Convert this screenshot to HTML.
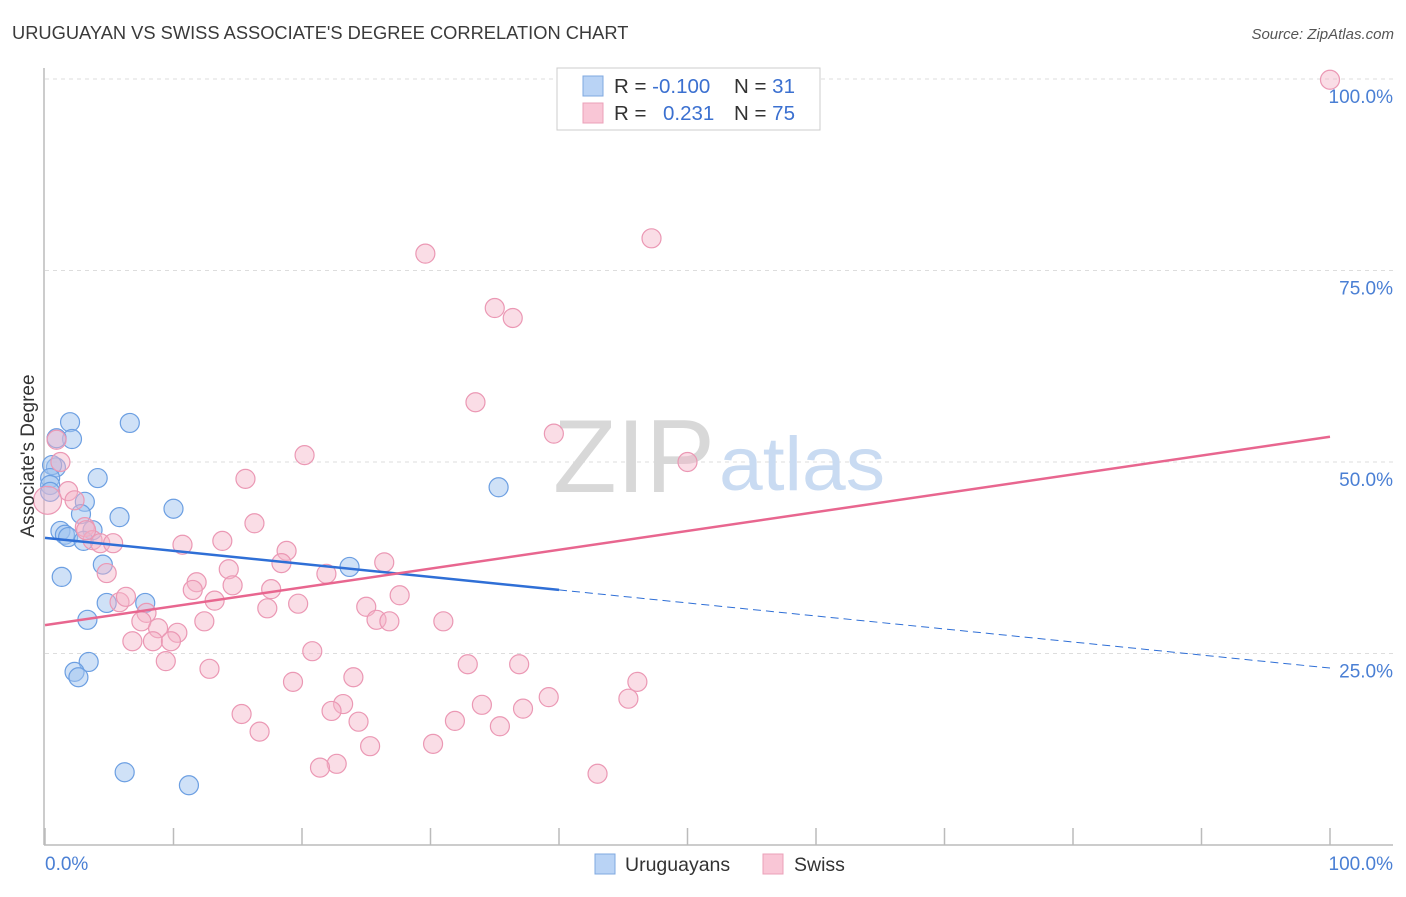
<!DOCTYPE html>
<html><head><meta charset="utf-8"><style>
body{margin:0;background:#fff;font-family:"Liberation Sans",sans-serif;}
svg text{font-family:"Liberation Sans",sans-serif;}
</style></head><body>
<svg id="chart" width="1406" height="892" viewBox="0 0 1406 892" xmlns="http://www.w3.org/2000/svg">
<text x="12" y="39" font-size="18.3" fill="#3a3a3a">URUGUAYAN VS SWISS ASSOCIATE'S DEGREE CORRELATION CHART</text>
<text x="1394" y="39" font-size="15" font-style="italic" fill="#555" text-anchor="end">Source: ZipAtlas.com</text>
<g id="grid"></g>
<g>
<text x="553" y="492" font-size="104" font-family="Liberation Serif,serif" fill="#d8d8d8" textLength="162" lengthAdjust="spacingAndGlyphs">ZIP</text>
<text x="719" y="490" font-size="76" fill="#c9dbf2" textLength="166" lengthAdjust="spacingAndGlyphs">atlas</text>
</g>
<line x1="44" y1="68" x2="44" y2="845" stroke="#bbb" stroke-width="1.5"/>
<line x1="44" y1="845" x2="1393" y2="845" stroke="#bbb" stroke-width="1.5"/>
<g id="ticks"></g>
<g id="pts"></g>
<g id="trends"></g>
<text transform="translate(34,456) rotate(-90)" font-size="19" fill="#333" text-anchor="middle">Associate's Degree</text>
<text x="45" y="870" font-size="19" fill="#4a7fd4">0.0%</text>
<text x="1393" y="870" font-size="19" fill="#4a7fd4" text-anchor="end">100.0%</text>
<g>
<rect x="557" y="68" width="263" height="62" fill="#fff" stroke="#ccc"/>
<rect x="583" y="76" width="20" height="20" fill="#b9d3f5" stroke="#7fa8e0"/>
<rect x="583" y="103" width="20" height="20" fill="#f9c6d6" stroke="#eba0b8"/>
<text x="614" y="93" font-size="20.5" fill="#333">R = <tspan fill="#3b70d0">-0.100</tspan></text>
<text x="734" y="93" font-size="20.5" fill="#333">N = <tspan fill="#3b70d0"> 31</tspan></text>
<text x="614" y="120" font-size="20.5" fill="#333">R = <tspan fill="#3b70d0" x="663">0.231</tspan></text>
<text x="734" y="120" font-size="20.5" fill="#333">N = <tspan fill="#3b70d0">75</tspan></text>
</g>
<g>
<rect x="595" y="854" width="20" height="20" fill="#b9d3f5" stroke="#7fa8e0"/>
<text x="625" y="871" font-size="19.5" fill="#333">Uruguayans</text>
</g>
<g>
<rect x="763" y="854" width="20" height="20" fill="#f9c6d6" stroke="#eba0b8"/>
<text x="794" y="871" font-size="19.5" fill="#333">Swiss</text>
</g>
</svg>
<script>
const yTicks=[25,50,75,100];
const yTickLabels=["25.0%","50.0%","75.0%","100.0%"];
const xTicks=[0,10,20,30,40,50,60,70,80,90,100];
const blueX=[1.95,6.6,2.1,0.9,0.85,0.55,0.4,0.4,0.4,4.1,3.1,10.0,5.8,2.8,1.2,1.55,1.8,3.7,3.0,4.5,1.3,23.7,35.3,4.8,7.8,3.3,3.4,2.3,2.6,6.2,11.2];
const blueY=[55.2,55.1,53.0,53.1,49.3,49.6,47.9,47.0,46.1,47.9,44.8,43.9,42.8,43.2,41.0,40.5,40.2,41.1,39.7,36.6,35.0,36.3,46.7,31.6,31.6,29.4,23.9,22.6,21.9,9.5,7.8];
const pinkX=[100,47.2,29.6,35.0,36.4,33.5,39.6,50.0,20.2,15.6,16.3,0.9,1.2,1.8,2.3,0.2,3.1,3.7,4.3,5.3,4.8,10.7,13.8,18.8,14.3,11.8,14.6,11.5,17.6,13.2,17.3,19.7,21.9,26.4,18.4,27.6,25.0,25.8,26.8,31.0,5.8,6.3,7.9,7.5,8.8,10.3,6.8,8.4,9.8,12.4,9.4,12.8,20.8,32.9,36.9,24.0,19.3,46.1,39.2,45.4,23.2,22.3,34.0,37.2,15.3,24.4,31.9,35.4,16.7,25.3,30.2,22.7,21.4,43.0,3.2];
const pinkY=[99.9,79.2,77.2,70.1,68.8,57.8,53.7,50.0,50.9,47.8,42.0,52.9,50.0,46.2,45.0,45.0,41.5,39.8,39.4,39.4,35.5,39.2,39.7,38.4,36.0,34.3,33.9,33.3,33.4,31.9,30.9,31.5,35.4,36.9,36.8,32.6,31.1,29.4,29.2,29.2,31.7,32.4,30.3,29.2,28.3,27.7,26.6,26.6,26.6,29.2,24.0,23.0,25.3,23.6,23.6,21.9,21.3,21.3,19.3,19.1,18.4,17.5,18.3,17.8,17.1,16.1,16.2,15.5,14.8,12.9,13.2,10.6,10.1,9.3,41.1];
const blueTrendX=[0,40,100];
const blueTrendY=[40.1,33.3,23.1];
const pinkTrendX=[0,100];
const pinkTrendY=[28.7,53.3];
const NS="http://www.w3.org/2000/svg";
const sx=v=>45+v*12.85, sy=v=>845-v*7.66;
function mk(tag,attrs,parent){const e=document.createElementNS(NS,tag);for(const k in attrs)e.setAttribute(k,attrs[k]);document.getElementById(parent).appendChild(e);return e;}
yTicks.forEach((t,i)=>{
 const l=mk('line',{x1:45,x2:1393,y1:sy(t),y2:sy(t),stroke:'#ddd','stroke-dasharray':'4,4'},'grid');
 
 
 const tx=mk('text',{x:1393,y:sy(t)+24,'font-size':19,fill:'#4a7fd4','text-anchor':'end'},'grid');
 tx.textContent=yTickLabels[i];
 
 
});
xTicks.forEach(t=>{
 const l=mk('line',{x1:sx(t),x2:sx(t),y1:828,y2:845,stroke:'#bbb','stroke-width':1.5},'ticks');
 
 
});
blueX.forEach((v,i)=>{
 const c=mk('circle',{cx:sx(v),cy:sy(blueY[i]),r:9.5,fill:'rgba(160,195,240,0.5)',stroke:'#6c9fe2','stroke-width':1.2},'pts');
 
 
});
pinkX.forEach((v,i)=>{
 const c=mk('circle',{cx:sx(v),cy:sy(pinkY[i]),r:i==15?14:9.5,fill:'rgba(245,180,200,0.45)',stroke:'#eb98b4','stroke-width':1.2},'pts');
 
 
});
const b1=mk('line',{x1:sx(blueTrendX[0]),y1:sy(blueTrendY[0]),x2:sx(blueTrendX[1]),y2:sy(blueTrendY[1]),stroke:'#2f6fd6','stroke-width':2.5},'trends');


const b2=mk('line',{x1:sx(blueTrendX[1]),y1:sy(blueTrendY[1]),x2:sx(blueTrendX[2]),y2:sy(blueTrendY[2]),stroke:'#2f6fd6','stroke-width':1,'stroke-dasharray':'8,5'},'trends');


const p1=mk('line',{x1:sx(pinkTrendX[0]),y1:sy(pinkTrendY[0]),x2:sx(pinkTrendX[1]),y2:sy(pinkTrendY[1]),stroke:'#e8668f','stroke-width':2.5},'trends');


</script>
</body></html>
